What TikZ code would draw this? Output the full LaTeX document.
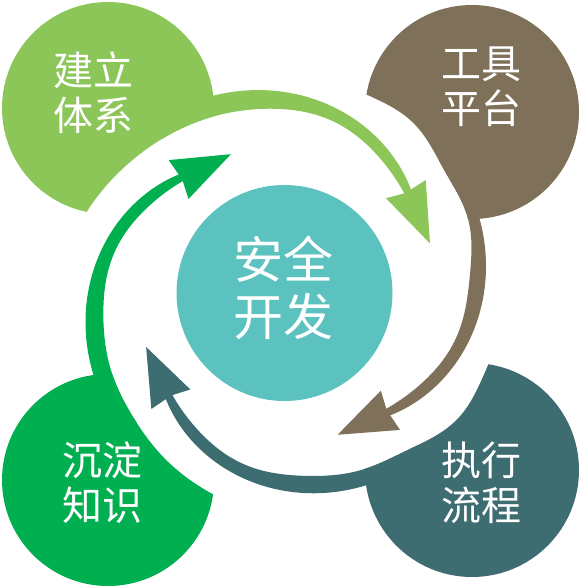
\documentclass[tikz,border=0pt]{standalone}
\usepackage{fontspec}
\newfontfamily\cjk{Noto Sans CJK SC}
\definecolor{cA}{HTML}{8CC658}
\definecolor{cB}{HTML}{7F7059}
\definecolor{cC}{HTML}{3D6C71}
\definecolor{cD}{HTML}{00AF50}
\definecolor{cM}{HTML}{5CC2BF}
% white inner region cut out of a quadrant: #1 angle offset, #2 radial shift, #3 far bulge, #4 near bulge
\newcommand\cutregion[4]{%
 (0,0) -- plot[variable=\q, domain=-167:-58.5, samples=45, smooth]
   ({#1+\q}:{rin(\q)+#2+#3*exp(-(\q+142)*(\q+142)/196)+#4*exp(-(\q+112)*(\q+112)/225)})
 -- cycle}
% curved arrow: #1 angle offset, #2 radial shift
\newcommand\arrowpath[2]{%
 plot[variable=\q, domain=-132:-39.8, samples=48, smooth] ({#1+\q}:{rout(\q)+#2})
 -- ({#1-39.1}:{180.7+#2}) -- ({#1-19.3}:{153.1+#2}) -- ({#1-43.6}:{138.8+#2})
 -- plot[variable=\q, domain=40.3:58.5, samples=8, smooth] ({#1-\q}:{rin(-\q)+#2})
 -- plot[variable=\q, domain=62:126, samples=12, smooth] ({#1-\q}:{rin(-\q)-10+#2})
 -- cycle}
\begin{document}
\begin{tikzpicture}[x=1pt,y=-1pt,
  declare function={
    rout(\t)=163.3+0.987*(-39.8-\t)-0.004367*(-39.8-\t)*(-39.8-\t);
    rin(\t)=155.4+0.534*(-40.3-\t)+5.5*exp(-(\t+75)*(\t+75)/400)-4.6*exp(-(\t+137)*(\t+137)/900);
  },
  corner/.style={circle, inner sep=0pt, outer sep=0pt},
  lbl/.style={text=white, align=center, inner sep=0pt, font=\cjk\fontsize{40}{45}\selectfont},
  biglbl/.style={text=white, align=center, inner sep=0pt, font=\cjk\fontsize{50}{57}\selectfont}]
\useasboundingbox (0,0) rectangle (580,588);
\coordinate (C) at (285.5,294);
\coordinate (ptl) at (108,108);
\coordinate (ptr) at (472,112);
\coordinate (pbr) at (472,470);
\coordinate (pbl) at (108,480);
\begin{scope}[shift={(285.5,294)}]
  \begin{scope}
    \clip (-400,-400) rectangle (400,400) \cutregion{0}{0}{0}{0};
    \node[corner, fill=cA, minimum size=212pt] (tl) at (ptl) {};
    \fill[cA] \arrowpath{0}{0};
  \end{scope}
  \begin{scope}
    \clip (-400,-400) rectangle (400,400) \cutregion{89}{(-3)}{11}{9};
    \node[corner, fill=cB, minimum size=214pt] (tr) at (ptr) {};
    \fill[cB] \arrowpath{89}{(-3)};
  \end{scope}
  \begin{scope}
    \clip (-400,-400) rectangle (400,400) \cutregion{178.5}{(-4)}{11}{4};
    \node[corner, fill=cC, minimum size=214pt] (br) at (pbr) {};
    \fill[cC] \arrowpath{178.5}{(-4)};
  \end{scope}
  \begin{scope}
    \clip (-400,-400) rectangle (400,400) \cutregion{268}{(-3)}{2}{2};
    \node[corner, fill=cD, minimum size=212pt] (bl) at (pbl) {};
    \fill[cD] \arrowpath{268}{(-3)};
  \end{scope}
\end{scope}
\node[corner, fill=cM, minimum size=216pt] (m) at (284.5,293) {};
\node[biglbl] (mt) at (283.5,287.5) {安全\\开发};
\node[lbl] (tlt) at (93.5,93) {建立\\体系};
\node[lbl] (trt) at (481.5,86.5) {工具\\平台};
\node[lbl] (blt) at (102.5,483) {沉淀\\知识};
\node[lbl] (brt) at (481,483) {执行\\流程};
\end{tikzpicture}
\end{document}
